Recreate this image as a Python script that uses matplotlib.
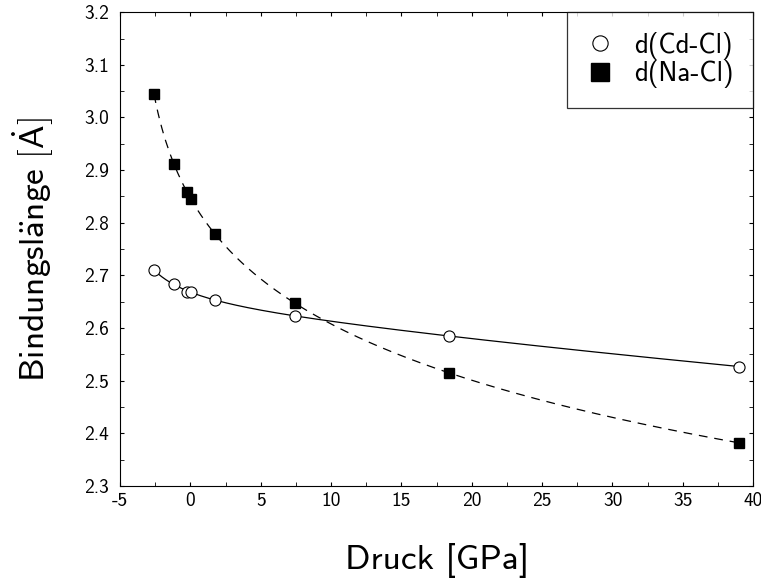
import numpy as np
import matplotlib.pyplot as plt
from matplotlib.lines import Line2D

plt.rcParams['font.family'] = ['cmss10', 'DejaVu Sans']
plt.rcParams['axes.unicode_minus'] = False
plt.rcParams['mathtext.fontset'] = 'cm'

# pressure [GPa] and bond lengths [A]
druck = [-2.58, -1.16, -0.24, 0.05, 1.75, 7.44, 18.38, 39.0]
d_cdcl = [2.710, 2.683, 2.669, 2.669, 2.654, 2.623, 2.585, 2.527]
d_nacl = [3.044, 2.911, 2.858, 2.845, 2.779, 2.647, 2.515, 2.382]

xticks = [-5, 0, 5, 10, 15, 20, 25, 30, 35, 40]
yticks = [2.3, 2.4, 2.5, 2.6, 2.7, 2.8, 2.9, 3.0, 3.1, 3.2]


def fit_curve(p, d):
	# d = c0 + c1*x + c2*x^2 + c3*x^3 with x = log(1 + a p), grid over a
	# sparse points at high pressure get more weight
	p = np.asarray(p)
	d = np.asarray(d)
	w = np.array([1, 1, 1, 1, 1, 2, 4, 4.0])
	best = None
	for a in np.linspace(0.001, 0.99 / -p.min(), 2000):
		x = np.log(1 + a * p)
		A = np.vstack([np.ones_like(x), x, x ** 2, x ** 3]).T
		coef = np.linalg.lstsq(A * w[:, None], d * w, rcond=None)[0]
		err = np.sum(((A @ coef - d) * w) ** 2)
		if best is None or err < best[0]:
			best = (err, a, coef)
	_, a, coef = best
	pp = np.linspace(p.min(), p.max(), 300)
	x = np.log(1 + a * pp)
	return pp, coef[0] + coef[1] * x + coef[2] * x ** 2 + coef[3] * x ** 3


fig = plt.figure(figsize=(7.61, 5.8), dpi=100)
ax = fig.add_axes([0.1577, 0.162, 0.832, 0.817])

pp, fc = fit_curve(druck, d_cdcl)
ax.plot(pp, fc, color="black", lw=0.9)
pp, fn = fit_curve(druck, d_nacl)
ax.plot(pp, fn, color="black", lw=0.9, dashes=(7, 5.5))

ax.plot(druck, d_cdcl, "o", ms=8, mfc="white", mec="black", mew=0.8, ls="none")
ax.plot(druck, d_nacl, "s", ms=7, mfc="black", mec="black", ls="none")

ax.set_xlim(-5, 40)
ax.set_ylim(2.3, 3.2)
ax.set_xticks(xticks)
ax.set_yticks(yticks)
ax.set_yticklabels(["%.1f" % y for y in yticks])
ax.set_xticks(np.arange(-5, 40.1, 2.5), minor=True)
ax.set_yticks(np.arange(2.3, 3.201, 0.05), minor=True)
ax.tick_params(which="both", direction="in", top=True, right=True, labelsize=14, length=3)
ax.tick_params(axis="x", pad=4)
ax.tick_params(axis="y", pad=8)

ax.set_xlabel("Druck [GPa]", fontsize=25.5, labelpad=24)
ax.set_ylabel(r"$\mathsf{Bindungsl\ddot{a}nge\ [\dot{A}]}$", fontsize=25.5, labelpad=20)

handles = [
	Line2D([], [], marker="o", ls="none", ms=11, mfc="white", mec="black", mew=0.8),
	Line2D([], [], marker="s", ls="none", ms=12.5, mfc="black", mec="black"),
]
leg = ax.legend(handles, ["d(Cd-Cl)", "d(Na-Cl)"], loc="upper right", fontsize=19.5,
	frameon=True, fancybox=False, borderaxespad=0, handletextpad=0.78,
	labelspacing=0.03, borderpad=0.72, handlelength=0.96)
leg.get_frame().set_edgecolor("black")
leg.get_frame().set_linewidth(0.9)

fig.savefig("out.png", dpi=100)
